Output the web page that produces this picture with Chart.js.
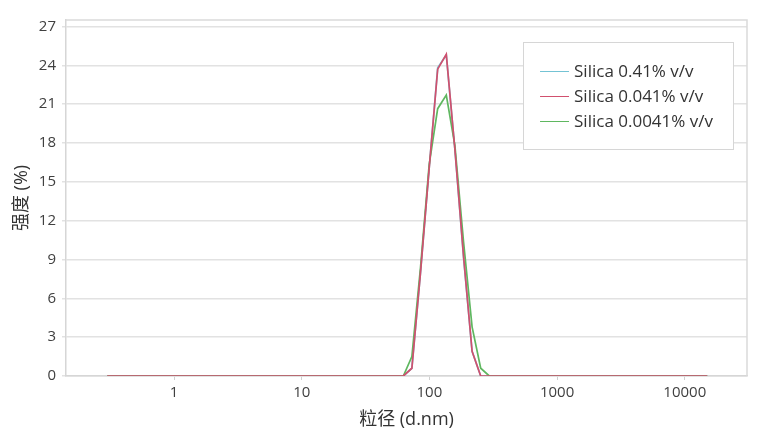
<!DOCTYPE html>
<html>
<head>
<meta charset="utf-8">
<script src="https://cdn.jsdelivr.net/npm/chart.js@4/dist/chart.umd.min.js"></script>
<style>
html,body{margin:0;padding:0;background:#fff;}
canvas{display:block;}
</style>
</head>
<body>
<canvas id="c" width="760" height="444"></canvas>
<script>
// Particle size bins (d.nm)
const sizes = [0.3, 62.5, 72.9, 85.2, 99.5, 116.1, 135.6, 158.4, 184.9, 215.9, 252.2, 294.5, 15000];
// Intensity (%) per series
const silica041 = [0, 0, 0.6, 8.0, 16.0, 23.8, 24.8, 17.5, 9.2, 1.9, 0, 0, 0];
const silica0041 = [0, 0, 0.6, 8.0, 16.0, 23.7, 24.85, 17.5, 9.3, 1.9, 0, 0, 0];
const silica00041 = [0, 0, 1.5, 8.4, 16.3, 20.65, 21.7, 17.8, 10.4, 3.8, 0.6, 0, 0];
const seriesLabels = ['Silica 0.41% v/v', 'Silica 0.041% v/v', 'Silica 0.0041% v/v'];
const seriesColors = ['#74c3d4', '#d1506e', '#5fb760'];
const xTickValues = [1, 10, 100, 1000, 10000];
const yTickValues = [0, 3, 6, 9, 12, 15, 18, 21, 24, 27];
const yMax = 27.5;
const xTitle = '粒径 (d.nm)';
const yTitle = '强度 (%)';

const FONT = '"Open Sans", "Noto Sans CJK SC", sans-serif';

function pts(arr){ return sizes.map((s,i)=>({x:s, y:arr[i]})); }

const frameAndLegend = {
  id: 'frameAndLegend',
  afterDraw(chart){
    const {ctx, chartArea:a} = chart;
    ctx.save();
    // top and right frame lines
    ctx.strokeStyle = '#dadada';
    ctx.lineWidth = 1.5;
    ctx.beginPath();
    ctx.moveTo(a.left, a.top);
    ctx.lineTo(a.right, a.top);
    ctx.lineTo(a.right, a.bottom);
    ctx.stroke();
    // legend
    ctx.font = '17px ' + FONT;
    let maxW = 0;
    seriesLabels.forEach(t=>{ maxW = Math.max(maxW, ctx.measureText(t).width); });
    const padL = 17, lineLen = 29, gap = 5, padR = 20, rowH = 25;
    const boxW = padL + lineLen + gap + maxW + padR;
    const boxH = 107;
    const boxR = a.right - 14;
    const boxL = boxR - boxW;
    const boxT = a.top + 22;
    ctx.fillStyle = '#ffffff';
    ctx.fillRect(boxL, boxT, boxW, boxH);
    ctx.strokeStyle = '#d6d6d6';
    ctx.lineWidth = 1;
    ctx.strokeRect(Math.round(boxL)+0.5, Math.round(boxT)+0.5, Math.round(boxW), boxH);
    ctx.textBaseline = 'middle';
    ctx.textAlign = 'left';
    seriesLabels.forEach((t,i)=>{
      const y = boxT + 29 + i*rowH;
      ctx.strokeStyle = seriesColors[i];
      ctx.lineWidth = 1;
      ctx.beginPath();
      ctx.moveTo(boxL + padL, Math.round(y)+0.5);
      ctx.lineTo(boxL + padL + lineLen, Math.round(y)+0.5);
      ctx.stroke();
      ctx.fillStyle = '#333333';
      ctx.fillText(t, boxL + padL + lineLen + gap, y + 1);
    });
    ctx.restore();
  }
};

new Chart(document.getElementById('c'), {
  type: 'line',
  data: {
    datasets: [
      {label: seriesLabels[0], data: pts(silica041), borderColor: seriesColors[0], order: 3},
      {label: seriesLabels[1], data: pts(silica0041), borderColor: seriesColors[1], order: 1},
      {label: seriesLabels[2], data: pts(silica00041), borderColor: seriesColors[2], order: 2}
    ]
  },
  options: {
    responsive: false,
    animation: false,
    devicePixelRatio: 1,
    layout: {padding: {top: 20, right: 13, left: 0, bottom: 0}},
    elements: {
      line: {borderWidth: 1.7, tension: 0, fill: false},
      point: {radius: 0}
    },
    plugins: {legend: {display: false}, tooltip: {enabled: false}},
    scales: {
      x: {
        type: 'logarithmic',
        min: 0.1426,
        max: 30700,
        afterBuildTicks(scale){ scale.ticks = xTickValues.map(v=>({value:v})); },
        afterFit(scale){ scale.height = 68; },
        ticks: {
          callback: v => String(v),
          color: '#404040',
          font: {family: FONT, size: 15},
          padding: 4,
          maxRotation: 0,
          autoSkip: false
        },
        grid: {drawOnChartArea: false, drawTicks: true, tickLength: 4, color: '#d0d0d0'},
        border: {display: true, color: '#d6d6d6', width: 1.5},
        title: {display: true, text: xTitle, color: '#333333', font: {family: FONT, size: 18}, padding: {top: 4, bottom: 13}}
      },
      y: {
        type: 'linear',
        min: 0,
        max: yMax,
        afterBuildTicks(scale){ scale.ticks = yTickValues.map(v=>({value:v})); },
        afterFit(scale){ scale.width = 66; },
        ticks: {
          color: '#404040',
          font: {family: FONT, size: 15},
          padding: 6
        },
        grid: {color: '#e2e2e2', lineWidth: 1.5, tickLength: 4},
        border: {display: true, color: '#d6d6d6', width: 1.5},
        title: {display: true, text: yTitle, color: '#333333', font: {family: FONT, size: 18}, padding: {top: 11, bottom: 0}}
      }
    }
  },
  plugins: [frameAndLegend]
});
</script>
</body>
</html>
